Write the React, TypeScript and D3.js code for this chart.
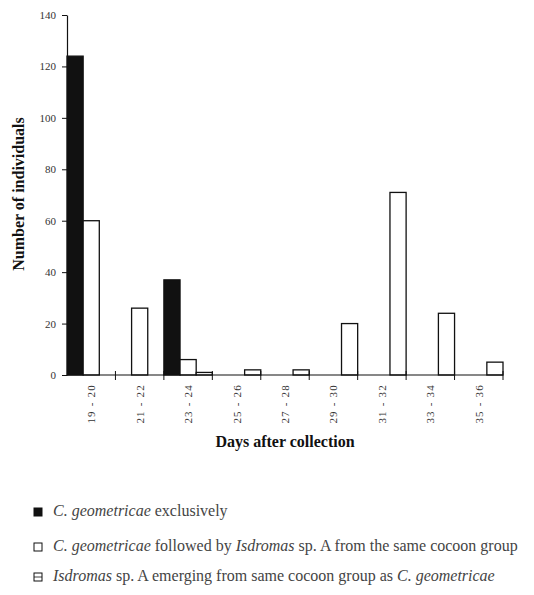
import React, { useEffect, useRef } from "react";
import * as d3 from "d3";

const categories = ["19 - 20", "21 - 22", "23 - 24", "25 - 26", "27 - 28", "29 - 30", "31 - 32", "33 - 34", "35 - 36"];
const exclusive = [124, 0, 37, 0, 0, 0, 0, 0, 0];
const followed = [60, 26, 6, 0, 0, 0, 0, 0, 0];
const emerging = [0, 0, 1, 2, 2, 20, 71, 24, 5];
const yTicks = [0, 20, 40, 60, 80, 100, 120, 140];
const seriesNames = ["exclusive", "followed", "emerging"];

const FONT = "'Liberation Serif', 'Times New Roman', serif";

const App = () => {
    const ref = useRef<SVGSVGElement>(null);

    useEffect(() => {
        document.body.style.margin = "0";
        const svg = d3.select(ref.current);
        svg.selectAll("*").remove();

        const layout = { left: 67, right: 503, top: 15, bottom: 375 };

        const x = d3.scaleBand().domain(categories).range([layout.left, layout.right]);
        const xSub = d3.scaleBand().domain(seriesNames).range([0, x.bandwidth()]);
        const y = d3.scaleLinear().domain([0, 140]).range([layout.bottom, layout.top]);

        const fills: Record<string, string> = { exclusive: "#111", followed: "#fff", emerging: "#fff" };
        const values: Record<string, number[]> = { exclusive, followed, emerging };

        // bars
        const bars = svg.append("g");
        seriesNames.forEach(s => {
            bars.selectAll(null)
                .data(categories.map((c, i) => ({ c, v: values[s][i] })).filter(d => d.v > 0))
                .enter()
                .append("rect")
                .attr("x", d => (x(d.c) as number) + (xSub(s) as number))
                .attr("y", d => y(d.v))
                .attr("width", xSub.bandwidth())
                .attr("height", d => y(0) - y(d.v))
                .attr("fill", fills[s])
                .attr("stroke", "#111")
                .attr("stroke-width", 1.3);
        });

        // y axis
        const yAxis = svg.append("g")
            .attr("transform", `translate(${layout.left},0)`)
            .call(d3.axisLeft(y).tickValues(yTicks).tickSize(5).tickSizeOuter(0).tickPadding(6));
        yAxis.select(".domain").attr("stroke", "#111").attr("stroke-width", 1.2);
        yAxis.selectAll(".tick line").attr("stroke", "#111");
        yAxis.selectAll("text").style("font-family", FONT).style("font-size", "11px").attr("fill", "#333");

        // x axis line + boundary ticks
        svg.append("line")
            .attr("x1", layout.left).attr("x2", layout.right)
            .attr("y1", y(0)).attr("y2", y(0))
            .attr("stroke", "#111").attr("stroke-width", 1.2);
        const bounds = categories.map(c => (x(c) as number) + x.bandwidth());
        svg.append("g").selectAll("line").data(bounds).enter().append("line")
            .attr("x1", d => d).attr("x2", d => d)
            .attr("y1", y(0) - 4).attr("y2", y(0) + 5)
            .attr("stroke", "#111");

        // x tick labels (rotated)
        svg.append("g").selectAll("text").data(categories).enter().append("text")
            .attr("transform", d => `translate(${(x(d) as number) + x.bandwidth() / 2 + 4},${y(0) + 9}) rotate(-90)`)
            .attr("text-anchor", "end")
            .style("font-family", FONT)
            .style("font-size", "11px")
            .attr("letter-spacing", 1.2)
            .attr("fill", "#333")
            .text(d => d);

        // axis titles
        svg.append("text")
            .attr("transform", `translate(24,194) rotate(-90)`)
            .attr("text-anchor", "middle")
            .style("font-family", FONT).style("font-weight", "bold").style("font-size", "16px")
            .attr("fill", "#111")
            .text("Number of individuals");
        svg.append("text")
            .attr("x", 285).attr("y", 447)
            .attr("text-anchor", "middle")
            .style("font-family", FONT).style("font-weight", "bold").style("font-size", "16px")
            .attr("fill", "#111")
            .text("Days after collection");

        // legend
        const legend = [
            { y: 512, fill: "#111", mid: false, parts: [["C. geometricae", true], [" exclusively", false]] },
            { y: 547, fill: "#fff", mid: false, parts: [["C. geometricae", true], [" followed by ", false], ["Isdromas", true], [" sp. A from the same cocoon group", false]] },
            { y: 577, fill: "#fff", mid: true, parts: [["Isdromas", true], [" sp. A emerging from same cocoon group as ", false], ["C. geometricae", true]] },
        ];
        legend.forEach(l => {
            svg.append("rect")
                .attr("x", 34).attr("y", l.y - 4).attr("width", 8).attr("height", 8)
                .attr("fill", l.fill).attr("stroke", "#111").attr("stroke-width", 1);
            if (l.mid) {
                svg.append("line").attr("x1", 34).attr("x2", 42).attr("y1", l.y).attr("y2", l.y)
                    .attr("stroke", "#111").attr("stroke-width", 0.8);
            }
            const t = svg.append("text")
                .attr("x", 53).attr("y", l.y + 4)
                .style("font-family", FONT).style("font-size", "16px").attr("fill", "#444");
            l.parts.forEach(([s, it]) => {
                t.append("tspan").style("font-style", it ? "italic" : "normal").text(s as string);
            });
        });
    }, []);

    return <svg ref={ref} width={534} height={595} style={{ display: "block", background: "#fff" }} />;
};

export default App;
